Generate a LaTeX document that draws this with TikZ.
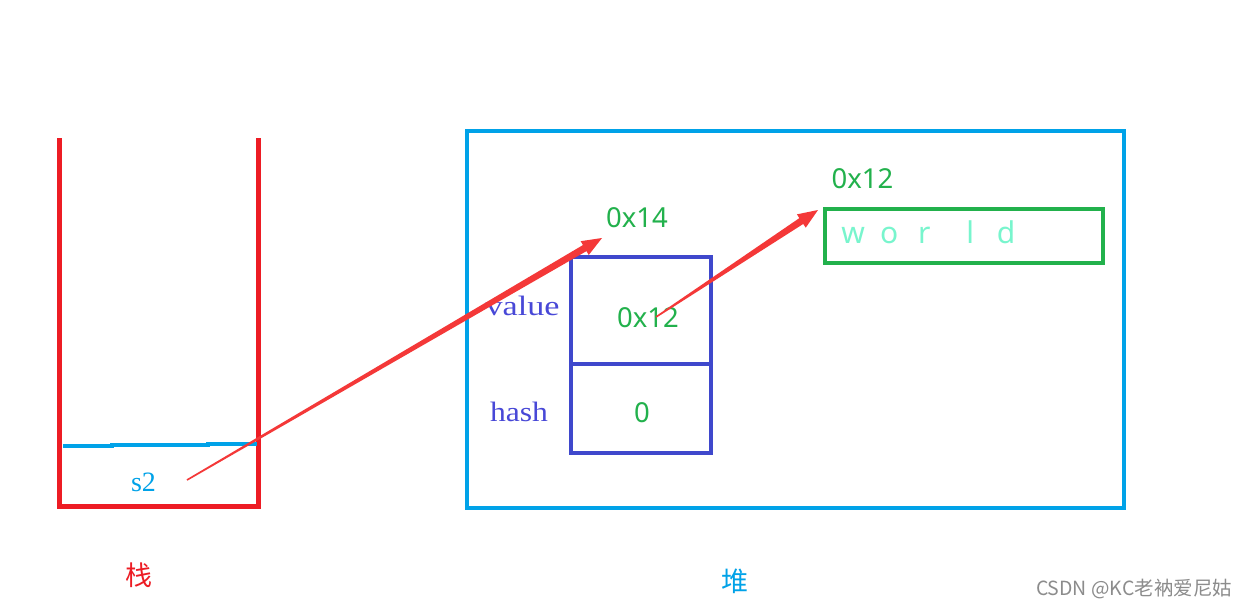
\documentclass[tikz,border=0pt]{standalone}
\usepackage{fontspec}
\setmainfont{Liberation Serif}
\newfontfamily\gsans{Noto Sans}
\newfontfamily\cjk{Noto Sans CJK SC}
\usetikzlibrary{calc}
\definecolor{stackred}{RGB}{237,28,36}
\definecolor{heapblue}{RGB}{0,162,232}
\definecolor{boxblue}{RGB}{63,72,204}
\definecolor{txtblue}{RGB}{72,72,215}
\definecolor{addrgreen}{RGB}{34,177,76}
\definecolor{worldgreen}{RGB}{120,245,205}
\definecolor{arrowred}{RGB}{244,56,56}
\newcommand\taperarrow[2]{%
  \coordinate (tH) at ($(#2)!20pt!(#1)$);
  \fill[arrowred] ($(#1)!0.8pt!90:(#2)$) -- ($(tH)!3.5pt!90:(#2)$) -- ($(tH)!8pt!90:(#2)$) -- (#2)
    -- ($(tH)!8pt!-90:(#2)$) -- ($(tH)!3.5pt!-90:(#2)$) -- ($(#1)!0.8pt!-90:(#2)$) -- cycle;}
\tikzset{
  serif/.style={font=\fontsize{28}{30}\selectfont, anchor=base, inner sep=0pt},
  addr/.style={font=\gsans\fontsize{27.5}{30}\selectfont, text=addrgreen, anchor=base, inner sep=0pt},
  han/.style={font=\cjk\fontsize{27}{29}\selectfont, inner sep=0pt},
}
\begin{document}
\begin{tikzpicture}[x=1pt,y=-1pt]
\useasboundingbox[fill=white] (0,0) rectangle (1247,608);
% stack
\draw[stackred, line width=5pt] (59.5,138) -- (59.5,506.5) -- (258.5,506.5) -- (258.5,138);
\draw[heapblue, line width=4pt] (63,445.5) -- (112,445.5) -- (112,444.5) -- (208,444.5) -- (208,443.5) -- (257,443.5);
\node[serif, text=heapblue] (s2) at (143.5,491) {s2};
\node[han, text=stackred] (zhan) at (139,575) {栈};
% heap
\draw[heapblue, line width=4.5pt] (467,131) rectangle (1124,508);
\node[han, text=heapblue] (dui) at (735,581) {堆};
% string object
\draw[boxblue, line width=4pt] (571,257) rectangle (711,453);
\draw[boxblue, line width=4pt] (571,364) -- (711,364);
\node[serif, text=txtblue] (value) at (522.5,315) {\scalebox{1.22}[1]{value}};
\node[serif, text=txtblue] (hash) at (519,421) {\scalebox{1.13}[1]{hash}};
\node[addr] (v12) at (648,327) {0x12};
\node[addr] (h0) at (642,422) {0};
\node[addr] (a14) at (637,227) {0x14};
% char array
\draw[addrgreen, line width=4pt] (825,209) rectangle (1103,263);
\node[addr] (a12) at (862.5,188) {0x12};
\node[font=\gsans\fontsize{30}{32}\selectfont, text=worldgreen, anchor=base west, inner sep=0pt] (world) at (853,243)
  {\makebox[0pt]{w}\hspace{36pt}\makebox[0pt]{o}\hspace{35pt}\makebox[0pt]{r}\hspace{46pt}\makebox[0pt]{l}\hspace{36pt}\makebox[0pt]{d}};
% arrows
\coordinate (p1s) at (187,480);
\coordinate (p1e) at (602,238);
\coordinate (p2s) at (656,317);
\coordinate (p2e) at (818,210);
\taperarrow{p1s}{p1e}
\taperarrow{p2s}{p2e}
% watermark
\node[font=\cjk\fontsize{19.5}{21}\selectfont, text=black!45, inner sep=0pt] (wm) at (1134,589) {CSDN @KC老衲爱尼姑};
\end{tikzpicture}
\end{document}
